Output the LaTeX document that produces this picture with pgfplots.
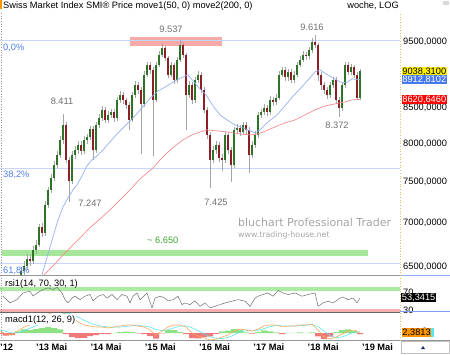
\documentclass[border=0pt]{standalone}
\usepackage{pgfplots}
\pgfplotsset{compat=1.18}
\usepackage{pgfplotstable}
\usepackage{fontspec}
\setmainfont{Liberation Sans}
\newfontfamily\wmfont{DejaVu Sans}
\newcommand{\fs}{\fontsize{9.3}{10}\selectfont}
\definecolor{upc}{RGB}{45,115,40}
\definecolor{dnc}{RGB}{140,30,40}
\definecolor{wick}{RGB}{165,165,165}
\definecolor{ma50}{RGB}{150,175,240}
\definecolor{ma200}{RGB}{245,140,140}
\definecolor{fibc}{RGB}{200,212,250}
\definecolor{fibt}{RGB}{80,125,235}
\definecolor{lbl}{RGB}{110,110,110}
\definecolor{band}{RGB}{165,230,155}
\definecolor{pinkbox}{RGB}{246,170,170}
\definecolor{wm}{RGB}{165,165,165}
\definecolor{gtxt}{RGB}{60,170,50}
\definecolor{panel}{RGB}{150,150,150}
\definecolor{dotc}{RGB}{230,190,110}
\definecolor{macdo}{RGB}{245,170,90}
\definecolor{macdc}{RGB}{90,230,240}
\definecolor{histg}{RGB}{140,225,130}
\definecolor{histr}{RGB}{240,120,120}
\definecolor{rsil}{RGB}{110,110,110}
\definecolor{bandg}{RGB}{170,235,160}
\definecolor{bandr}{RGB}{245,175,175}
\definecolor{blbox}{RGB}{70,120,240}
\definecolor{orbox}{RGB}{255,150,0}
\definecolor{navy}{RGB}{30,40,120}

\pgfplotstableread{
x o h l c
2012.392 5900 6000 5860 5950
2012.447 5950 6090 5920 6050
2012.503 6050 6100 5970 6020
2012.558 6020 6190 5990 6150
2012.613 6150 6300 6120 6260
2012.668 6260 6400 6220 6350
2012.724 6350 6500 6310 6460
2012.779 6460 6560 6410 6510
2012.834 6510 6640 6470 6590
2012.889 6590 6630 6510 6560
2012.945 6560 6730 6530 6690
2013.000 6690 6800 6640 6750
2013.055 6750 6990 6720 6950
2013.111 6950 7000 6840 6880
2013.166 6880 7260 6850 7220
2013.221 7220 7440 7180 7400
2013.276 7400 7600 7360 7550
2013.332 7550 7770 7510 7720
2013.387 7720 7900 7680 7850
2013.442 7850 8100 7810 8050
2013.497 8050 8411 8000 8260
2013.552 8260 8300 7740 7790
2013.608 7790 7830 7247 7520
2013.663 7520 7900 7480 7850
2013.718 7850 7970 7800 7920
2013.773 7920 8040 7870 7990
2013.829 7990 8040 7850 7900
2013.884 7900 8100 7860 8050
2013.939 8050 8140 8000 8090
2013.994 8090 8250 8050 8200
2014.050 8200 8240 7790 7920
2014.105 7920 8300 7880 8260
2014.160 8260 8410 8220 8360
2014.215 8360 8520 8320 8470
2014.271 8470 8510 8280 8330
2014.326 8330 8450 8290 8400
2014.381 8400 8490 8350 8440
2014.436 8440 8480 8300 8350
2014.492 8350 8660 8310 8610
2014.547 8610 8740 8570 8690
2014.602 8690 8730 8560 8610
2014.657 8610 8650 8490 8540
2014.713 8540 8580 8190 8330
2014.768 8330 8730 8300 8690
2014.823 8690 8890 8650 8840
2014.879 8840 8880 8700 8760
2014.934 8760 8800 7860 8550
2014.989 8550 9040 8510 8990
2015.044 8990 9190 8950 9140
2015.100 9140 9180 9000 9060
2015.155 9060 9100 7840 8620
2015.210 8620 9180 8580 9140
2015.265 9140 9350 9100 9300
2015.321 9300 9470 9260 9410
2015.376 9410 9440 9200 9250
2015.431 9250 9280 8940 8990
2015.486 8990 9190 8950 9140
2015.542 9140 9170 8850 8910
2015.597 8910 9260 8870 9220
2015.652 9220 9537 9180 9450
2015.707 9450 9500 9250 9300
2015.763 9300 9330 8190 8690
2015.818 8690 8890 8640 8840
2015.873 8840 8880 8560 8610
2015.928 8610 8950 8570 8910
2015.984 8910 9040 8860 8990
2016.039 8990 9030 8710 8760
2016.094 8760 8800 8420 8470
2016.150 8470 8510 8060 8120
2016.205 8120 8160 7425 7790
2016.260 7790 7970 7750 7920
2016.315 7920 8040 7870 7990
2016.371 7990 8030 7760 7810
2016.426 7810 7860 7640 7790
2016.481 7790 8160 7750 8120
2016.536 8120 8160 7870 7920
2016.592 7920 7960 7500 7720
2016.647 7720 8230 7680 8190
2016.702 8190 8270 8150 8220
2016.757 8220 8260 8110 8160
2016.813 8160 8300 8120 8260
2016.868 8260 8300 8140 8190
2016.923 8190 8230 7620 7850
2016.978 7850 8040 7810 7990
2017.034 7990 8170 7950 8120
2017.089 8120 8440 8080 8400
2017.144 8400 8490 8360 8440
2017.200 8440 8550 8400 8500
2017.255 8500 8540 8390 8440
2017.310 8440 8670 8400 8620
2017.365 8620 8660 8530 8580
2017.421 8580 8700 8540 8650
2017.476 8650 9040 8610 8990
2017.531 8990 9110 8950 9060
2017.586 9060 9100 8900 8950
2017.642 8950 9080 8900 9030
2017.697 9030 9070 8860 8910
2017.752 8910 9040 8870 8990
2017.807 8990 9190 8950 9140
2017.863 9140 9270 9100 9220
2017.918 9220 9350 9180 9300
2017.973 9300 9340 9220 9270
2018.028 9270 9420 9230 9370
2018.084 9370 9560 9330 9500
2018.139 9500 9616 9400 9450
2018.194 9450 9480 8900 8990
2018.249 8990 9030 8760 8830
2018.305 8830 8880 8700 8760
2018.360 8760 8800 8630 8690
2018.415 8690 8880 8650 8830
2018.470 8830 8960 8790 8910
2018.526 8910 8950 8570 8620
2018.581 8620 8660 8372 8500
2018.636 8500 8870 8460 8830
2018.691 8830 9190 8790 9140
2018.747 9140 9180 8980 9030
2018.802 9030 9150 8990 9100
2018.857 9100 9140 8940 8990
2018.912 8990 9030 8610 8650
2018.967 8650 9080 8620 9038.31
}\candles

\pgfplotstableread{
x v
2012.521 5699
2012.705 5846
2012.889 6066
2013.037 6306
2013.110 6414
2013.221 6645
2013.313 6838
2013.405 7037
2013.497 7193
2013.589 7303
2013.681 7402
2013.755 7465
2013.847 7579
2013.939 7708
2014.031 7786
2014.123 7839
2014.234 7918
2014.363 8026
2014.492 8135
2014.639 8245
2014.786 8357
2014.934 8485
2015.099 8637
2015.247 8747
2015.413 8820
2015.560 8895
2015.707 8955
2015.799 8986
2015.910 8880
2016.020 8776
2016.131 8688
2016.260 8528
2016.389 8400
2016.517 8329
2016.665 8259
2016.812 8217
2016.941 8176
2017.033 8149
2017.125 8190
2017.272 8301
2017.420 8386
2017.567 8514
2017.714 8651
2017.862 8776
2018.009 8910
2018.138 9032
2018.230 9062
2018.341 9001
2018.470 8941
2018.598 8880
2018.709 8865
2018.819 8925
2018.967 8912.81
}\maA

\pgfplotstableread{
x v
2012.521 6046
2012.705 6148
2012.889 6253
2013.129 6401
2013.350 6534
2013.534 6657
2013.773 6804
2013.994 6944
2014.179 7049
2014.363 7157
2014.547 7278
2014.731 7402
2014.915 7541
2015.155 7682
2015.284 7786
2015.413 7878
2015.560 7972
2015.707 8053
2015.836 8107
2015.965 8148
2016.149 8190
2016.333 8176
2016.517 8163
2016.757 8135
2016.941 8121
2017.088 8135
2017.236 8176
2017.401 8231
2017.586 8287
2017.770 8329
2017.954 8400
2018.138 8471
2018.322 8528
2018.506 8557
2018.691 8585
2018.819 8615
2018.967 8620.65
}\maB

\pgfplotstableread{
x v
2012.392 56.7
2012.521 43.7
2012.650 50
2012.761 63
2012.889 66.5
2012.945 57
2013.018 63
2013.129 69.6
2013.221 73
2013.313 69.6
2013.387 74
2013.479 63
2013.534 50
2013.589 43.7
2013.663 53
2013.718 56.7
2013.810 50
2013.902 56.7
2013.994 60
2014.050 47.6
2014.142 56.7
2014.234 60
2014.308 53
2014.400 60
2014.492 50
2014.584 60
2014.676 56.7
2014.731 43.7
2014.786 56.7
2014.860 63
2014.915 50
2014.970 55
2015.044 63
2015.136 34
2015.191 53
2015.284 56.7
2015.376 53
2015.431 47.6
2015.523 50
2015.615 56.7
2015.689 40.4
2015.744 43.7
2015.836 40.4
2015.928 47.6
2016.020 37.2
2016.112 43.7
2016.205 33.9
2016.297 37.2
2016.389 40.4
2016.481 43.7
2016.610 47
2016.720 50
2016.849 47
2016.941 37
2017.034 53
2017.089 56.7
2017.180 60
2017.273 63
2017.365 56.7
2017.457 67.7
2017.549 63
2017.642 60
2017.770 63
2017.899 56.7
2018.009 60
2018.139 63
2018.194 37.2
2018.285 43.7
2018.377 47
2018.470 43.7
2018.598 53
2018.654 55
2018.746 50
2018.838 53
2018.912 43.7
2018.967 53.34
}\rsi

\pgfplotstableread{
x m s h
2012.337 50 80 -30
2012.447 -25 40 -65
2012.558 -50 0 -50
2012.668 50 10 40
2012.779 150 60 90
2012.889 200 120 80
2013.000 275 180 95
2013.111 375 250 125
2013.221 475 320 155
2013.332 525 400 125
2013.442 550 460 90
2013.552 475 500 -25
2013.663 375 470 -95
2013.773 275 400 -125
2013.884 200 320 -120
2013.994 175 250 -75
2014.105 150 200 -50
2014.215 150 170 -20
2014.326 125 150 -25
2014.436 150 145 5
2014.547 175 150 25
2014.657 200 165 35
2014.768 200 180 20
2014.879 175 185 -10
2014.989 150 175 -25
2015.100 75 150 -75
2015.210 -50 90 -140
2015.321 50 60 -10
2015.431 150 80 70
2015.542 200 130 70
2015.652 200 170 30
2015.763 150 180 -30
2015.873 0 130 -130
2015.984 -75 60 -135
2016.094 -125 -20 -105
2016.205 -175 -90 -85
2016.315 -150 -130 -20
2016.426 -100 -140 40
2016.536 -50 -110 60
2016.647 50 -50 100
2016.757 100 20 80
2016.868 75 60 15
2016.978 50 65 -15
2017.089 100 70 30
2017.200 175 110 65
2017.310 200 160 40
2017.421 200 185 15
2017.531 150 180 -30
2017.642 175 170 5
2017.752 175 172 3
2017.863 200 185 15
2017.973 200 195 5
2018.084 225 210 15
2018.194 75 160 -85
2018.305 -100 50 -150
2018.415 -150 -60 -90
2018.526 -100 -120 20
2018.636 -25 -100 75
2018.747 50 -40 90
2018.857 75 20 55
2018.967 2.38 30 -28
}\macd

\begin{document}
\begin{tikzpicture}[x=1bp,y=1bp]
\path[use as bounding box] (0,0) rectangle (450,354);

% ---------- main price panel ----------
\begin{axis}[at={(0bp,79bp)}, anchor=south west, scale only axis,
  width=400bp, height=263bp,
  xmin=2012.337, xmax=2019.703, ymode=log, ymin=6413, ymax=9993,
  axis line style={draw=none}, major tick length=0, xtick=\empty,
  ytick={6500,7000,7500,8000,8500,9500},
  yticklabels={{6500,0000},{7000,0000},{7500,0000},{8000,0000},{8500,0000},{9500,0000}},
  ytick pos=right, yticklabel pos=right,
  yticklabel style={font=\fs, inner sep=0pt, xshift=3bp},
  clip mode=individual]
\fill[pinkbox] (axis cs:2014.731,9436) rectangle (axis cs:2016.425,9580);
\fill[band] (axis cs:2012.374,6623) rectangle (axis cs:2019.114,6690);
\addplot[fibc, line width=0.6bp, forget plot] coordinates {(2012.337,9520) (2019.703,9520)};
\addplot[fibc, line width=0.6bp, forget plot] coordinates {(2012.337,7682) (2019.703,7682)};
\addplot[fibc, line width=0.6bp, forget plot] coordinates {(2012.337,6541) (2019.703,6541)};
% candles: one wick and one body per row of the table
\pgfplotsinvokeforeach{0,...,119}{%
  \pgfplotstablegetelem{#1}{x}\of\candles \let\cX=\pgfplotsretval
  \pgfplotstablegetelem{#1}{o}\of\candles \let\cO=\pgfplotsretval
  \pgfplotstablegetelem{#1}{h}\of\candles \let\cH=\pgfplotsretval
  \pgfplotstablegetelem{#1}{l}\of\candles \let\cL=\pgfplotsretval
  \pgfplotstablegetelem{#1}{c}\of\candles \let\cC=\pgfplotsretval
  \ifdim\cC pt<\cO pt \def\bc{dnc}\else\def\bc{upc}\fi
  \edef\doplot{\noexpand\addplot[wick, line width=0.8bp, forget plot] coordinates {(\cX,\cL) (\cX,\cH)};
    \noexpand\addplot[\bc, line width=2.3bp, forget plot] coordinates {(\cX,\cO) (\cX,\cC)};}%
  \doplot
}
\addplot[ma50, line width=0.7bp, mark=none] table[x=x, y=v] {\maA};
\addplot[ma200, line width=0.7bp, mark=none] table[x=x, y=v] {\maB};
\coordinate (pA) at (axis cs:2019.703,9038.31);
\coordinate (pB) at (axis cs:2019.703,8912.81);
\coordinate (pC) at (axis cs:2019.703,8620.65);
\end{axis}

% ---------- RSI panel ----------
\begin{axis}[at={(0bp,42bp)}, anchor=south west, scale only axis,
  width=400bp, height=35bp,
  xmin=2012.337, xmax=2019.703, ymin=26, ymax=94,
  axis line style={draw=none}, major tick length=0, xtick=\empty,
  ytick={70}, yticklabels={{70,0000}},
  extra y ticks={30}, extra y tick labels={{30,0000}},
  extra y tick style={yticklabel style={yshift=2.5bp}},
  ytick pos=right, yticklabel pos=right,
  yticklabel style={font=\fs, inner sep=0pt, xshift=3bp, yshift=-3bp},
  clip mode=individual]
\fill[bandg] (axis cs:2012.337,67) rectangle (axis cs:2019.703,75);
\fill[bandr] (axis cs:2012.337,26) rectangle (axis cs:2019.703,32);
\addplot[rsil, line width=0.5bp, mark=none] table[x=x, y=v] {\rsi};
\coordinate (pR) at (axis cs:2019.703,53.34);
\end{axis}

% ---------- MACD panel ----------
\begin{axis}[at={(0bp,14bp)}, anchor=south west, scale only axis,
  width=400bp, height=27bp,
  xmin=2012.337, xmax=2019.703, ymin=-175, ymax=500,
  axis line style={draw=none}, major tick length=0,
  xtick={2012.337,2013,2014,2015,2016,2017,2018,2019},
  xticklabels={'12,'13 Mai,'14 Mai,'15 Mai,'16 Mai,'17 Mai,'18 Mai,'19 Mai},
  xticklabel style={font=\fs\bfseries, anchor=north west, inner sep=0pt, yshift=-4bp},
  ytick={0}, yticklabels={{0,0000}},
  ytick pos=right, yticklabel pos=right,
  yticklabel style={font=\fs, inner sep=0pt, xshift=22bp, yshift=2bp},
  clip mode=individual]
\addplot[ybar, bar width=0.1105, bar shift=0pt, fill=histg, draw=none,
  y filter/.expression={y>=0 ? y : nan}] table[x=x, y=h] {\macd};
\addplot[ybar, bar width=0.1105, bar shift=0pt, fill=histr, draw=none,
  y filter/.expression={y<0 ? y : nan}] table[x=x, y=h] {\macd};
\addplot[macdc, line width=0.6bp, mark=none] table[x=x, y=s] {\macd};
\addplot[macdo, line width=0.6bp, mark=none] table[x=x, y=m] {\macd};
\coordinate (pM) at (axis cs:2019.703,2.38);
\end{axis}

% ---------- frame lines ----------
\draw[panel, line width=1.3bp] (0,78.5) -- (400,78.5);
\draw[blbox!60, line width=1bp] (400,78.5) -- (450,78.5);
\draw[black!60, line width=1bp] (0,41.8) -- (400,41.8);
\draw[blbox!70, line width=0.8bp] (400,42.6) -- (450,42.6);
\draw[panel, line width=1bp] (0,13.5) -- (450,13.5);
\draw[panel, dotted, line width=0.6bp] (0.8,13.5) -- (0.8,341);
\draw[dotc, dotted, line width=0.7bp] (400.8,13.5) -- (400.8,342);
\fill[orbox] (0,345) rectangle (2,354);
\fill[black!15] (443,349) rectangle (449,353);
\draw[black!25, line width=0.5bp] (401,0.3) rectangle (449.7,13.2);
\fill[navy] (421,5) -- (425,5) -- (423,8) -- cycle;

% ---------- right value boxes ----------
\node[anchor=west, fill=yellow, inner sep=0.7bp, font=\fs, xshift=1.5bp] at (pA) {9038,3100};
\node[anchor=west, fill=blbox, text=white, inner sep=0.7bp, font=\fs, xshift=1.5bp] at (pB) {8912,8102};
\node[anchor=west, fill=red, text=white, inner sep=0.7bp, font=\fs, xshift=1.5bp] at (pC) {8620,6460};
\node[anchor=west, fill=black, text=white, inner sep=0.7bp, font=\fs, xshift=1bp] at (pR) {53,3415};
\node[anchor=west, fill=macdc, inner sep=0.7bp, font=\fs, xshift=4bp] at (pM) {\phantom{2,3813}};
\node[anchor=west, fill=orbox, inner sep=0.7bp, font=\fs, xshift=1.5bp] at (pM) {2,3813};

% ---------- texts ----------
\node[anchor=base west, inner sep=0pt, font=\fs] at (3,346) {Swiss Market Index SMI® Price move1(50, 0) move2(200, 0)};
\node[anchor=base east, inner sep=0pt, font=\fs] at (399,346) {woche, LOG};
\node[anchor=base, inner sep=0pt, font=\fs, text=lbl] at (171,322) {9.537};
\node[anchor=base, inner sep=0pt, font=\fs, text=lbl] at (312,324) {9.616};
\node[anchor=base, inner sep=0pt, font=\fs, text=lbl] at (62,250) {8.411};
\node[anchor=base, inner sep=0pt, font=\fs, text=lbl] at (90,148) {7.247};
\node[anchor=base, inner sep=0pt, font=\fs, text=lbl] at (216,149) {7.425};
\node[anchor=base, inner sep=0pt, font=\fs, text=lbl] at (337,226) {8.372};
\node[anchor=base west, inner sep=0pt, font=\fs, text=gtxt] at (147,111) {\textasciitilde{} 6.650};
\node[anchor=base west, inner sep=0pt, font=\fs, text=fibt] at (3,304) {0,0\%};
\node[anchor=base west, inner sep=0pt, font=\fs, text=fibt] at (3,177) {38,2\%};
\node[anchor=base west, inner sep=0pt, font=\fs, text=fibt] at (3,81) {61,8\%};
\node[anchor=base west, inner sep=0pt, text=wm, font=\wmfont\fontsize{11}{12}\selectfont] at (238,128) {bluchart Professional Trader};
\node[anchor=base west, inner sep=0pt, text=wm, font=\wmfont\fontsize{7.9}{9}\selectfont] at (238,117) {www.trading-house.net};
\node[anchor=base west, inner sep=0pt, font=\fs] at (5,68) {rsi1(14, 70, 30, 1)};
\node[anchor=base west, inner sep=1pt, fill=white, font=\fs] at (4,32) {macd1(12, 26, 9)};
\end{tikzpicture}
\end{document}
